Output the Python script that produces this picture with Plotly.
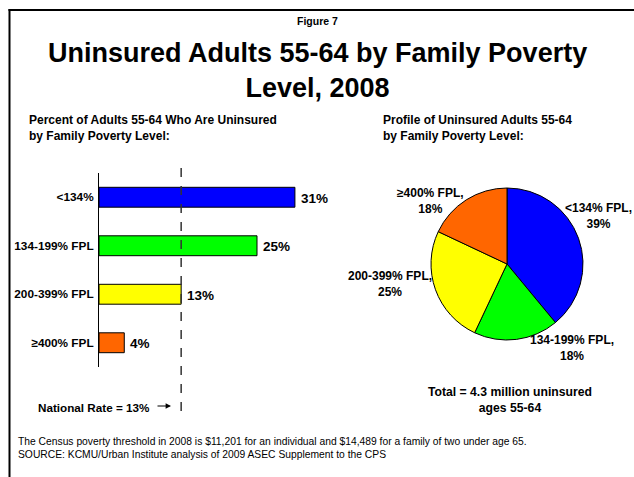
import plotly.graph_objects as go

# ---------------- data ----------------
bar_categories = ["<134%", "134-199% FPL", "200-399% FPL", "≥400% FPL"]
bar_values = [31, 25, 13, 4]
bar_colors = ["#0000FF", "#00FF00", "#FFFF00", "#FF6600"]
national_rate = 13

pie_labels = ["<134% FPL", "134-199% FPL", "200-399% FPL", "≥400% FPL"]
pie_values = [39, 18, 25, 18]
pie_colors = ["#0000FF", "#00FF00", "#FFFF00", "#FF6600"]

W, H = 634, 477
FONT = "Liberation Sans, Arial, sans-serif"


def px(x):
    return x / W


def py(y):
    return 1 - y / H


fig = go.Figure()

# bar chart
fig.add_trace(go.Bar(
    x=bar_values, y=bar_categories, orientation="h",
    marker=dict(color=bar_colors, line=dict(color="black", width=1)),
    width=0.41, xaxis="x", yaxis="y", showlegend=False, hoverinfo="skip",
))

# pie chart
fig.add_trace(go.Pie(
    labels=pie_labels, values=pie_values, sort=False, direction="clockwise",
    rotation=0, marker=dict(colors=pie_colors, line=dict(color="black", width=1)),
    textinfo="none", showlegend=False, hoverinfo="skip",
    domain=dict(x=[px(431), px(583)], y=[py(340), py(188)]),
))

x_px_per_unit = 6.32
x_range_max = 35

annotations = []
# bar value labels
for cat, v in zip(bar_categories, bar_values):
    annotations.append(dict(
        x=v, y=cat, xref="x", yref="y", text=f"{v}%", showarrow=False,
        xanchor="left", yanchor="middle", xshift=4, yshift=-1,
        font=dict(family=FONT, size=13.5, color="black", weight="bold"),
    ))

# pie labels (positions are layout, text from data)
pie_label_pos = [(598, 216), (572, 348), (390, 284), (430, 201)]
for lab, v, (lx, ly) in zip(pie_labels, pie_values, pie_label_pos):
    annotations.append(dict(
        x=px(lx), y=py(ly), xref="paper", yref="paper",
        text=f"{lab},<br>{v}%", showarrow=False, align="center",
        xanchor="center", yanchor="middle",
        font=dict(family=FONT, size=12, color="black", weight="bold"),
    ))

def txt(x, y, text, size, bold=True, xanchor="left", align="left"):
    annotations.append(dict(
        x=px(x), y=py(y), xref="paper", yref="paper", text=text,
        showarrow=False, xanchor=xanchor, yanchor="middle", align=align,
        font=dict(family=FONT, size=size, color="black",
                  weight="bold" if bold else "normal"),
    ))

txt(317, 21, "Figure 7", 10.5, xanchor="center", align="center")
txt(317, 70, "Uninsured Adults 55-64 by Family Poverty<br>Level, 2008", 27,
    xanchor="center", align="center")
txt(27, 128, "Percent of Adults 55-64 Who Are Uninsured<br>by Family Poverty Level:", 12)
txt(381, 128, "Profile of Uninsured Adults 55-64<br>by Family Poverty Level:", 12)
txt(510, 400, "Total = 4.3 million uninsured<br>ages 55-64", 12.2,
    xanchor="center", align="center")
txt(152, 407, f"National Rate = {national_rate}%", 11.7, xanchor="right")
txt(16, 448, "The Census poverty threshold in 2008 is $11,201 for an individual and "
    "$14,489 for a family of two under age 65.<br>"
    "SOURCE: KCMU/Urban Institute analysis of 2009 ASEC Supplement to the CPS",
    10.3, bold=False)

# arrow
annotations.append(dict(
    x=px(171), y=py(406), xref="paper", yref="paper", ax=-15, ay=0,
    axref="pixel", ayref="pixel", showarrow=True, arrowhead=2,
    arrowsize=0.9, arrowwidth=1.2, arrowcolor="black", text="",
))

shapes = [
    # national rate dashed line
    dict(type="line", xref="x", yref="paper", x0=national_rate, x1=national_rate,
         y0=py(411), y1=py(161), line=dict(color="#333333", width=1.5, dash="dash")),
    # frame
    dict(type="line", xref="paper", yref="paper", x0=px(8.5), x1=1,
         y0=py(10), y1=py(10), line=dict(color="black", width=2)),
    dict(type="line", xref="paper", yref="paper", x0=px(9.5), x1=px(9.5),
         y0=py(9), y1=0, line=dict(color="black", width=2)),
]

fig.update_layout(
    width=W, height=H, margin=dict(l=0, r=0, t=0, b=0),
    paper_bgcolor="white", plot_bgcolor="rgba(0,0,0,0)",
    font=dict(family=FONT, color="black"),
    xaxis=dict(domain=[px(99), px(99 + x_px_per_unit * x_range_max)],
               range=[0, x_range_max], visible=False, fixedrange=True),
    yaxis=dict(domain=[py(367), py(173)], range=[3.5, -0.5], type="category",
               showline=True, linecolor="black", linewidth=1, showgrid=False,
               ticks="", ticklabelstandoff=2,
               tickfont=dict(family=FONT, size=11.8, color="black", weight="bold"),
               fixedrange=True, zeroline=False),
    annotations=annotations, shapes=shapes, bargap=0.6,
)

fig.write_html("out.html")
